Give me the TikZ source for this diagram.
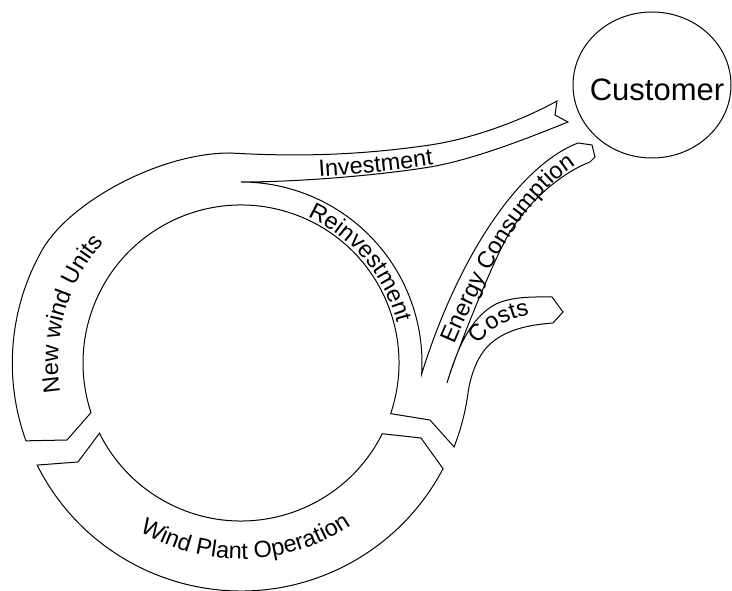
\documentclass[tikz,border=0pt]{standalone}
\usepackage{fontspec}
\setmainfont{Liberation Sans}
\usetikzlibrary{decorations.text}
\newcommand{\flowfont}{\fontsize{23.5}{28}\selectfont}
\newcommand{\customerfont}{\fontsize{31}{36}\selectfont}
\newcommand{\radin}{158}
\newcommand{\radout}{228}
\tikzset{
    band/.style={draw, line width=1pt, line join=miter},
    flowtext/.style={decorate, decoration={text along path, text align=center, text={|\flowfont|#1}}},
    partylabel/.style={inner sep=0pt, font=\customerfont}
}
\begin{document}
\begin{tikzpicture}[x=1pt, y=1pt]
    \useasboundingbox (-241,-228) rectangle (491,363);

    % upper loop with its branches
    \draw[band]
        (198.3:\radin) -- (-174,-77) -- (199.9:228.7)
        arc[start angle=199.9, end angle=150, radius=228.7]
        .. controls (-170,161.6) and (-81,210) .. (-11,210)
        .. controls (60,206) and (120,208) .. (189,218)
        .. controls (230,224) and (280,242) .. (316,262)
        -- (314,248) -- (327,241)
        .. controls (280,222) and (230,203) .. (189,196)
        .. controls (140,188) and (60,181) .. (0,181)
        arc[start angle=90, end angle=-3.5, radius=181]
        .. controls (215,100) and (275,196) .. (337,220)
        -- (351,218) -- (354,206) -- (349,201)
        .. controls (320,190) and (285,160) .. (266,126)
        .. controls (250,97) and (215,10) .. (206,-20)
        .. controls (215,10) and (228,45) .. (255,59)
        .. controls (272,67) and (295,66) .. (311,66)
        -- (322,51) -- (312,40)
        .. controls (285,38) and (255,32) .. (240,8)
        .. controls (233,-3) and (228.6,-18) .. (-7.5:229)
        arc[start angle=-7.5, end angle=-21.5, radius=229]
        -- (189,-57) -- (-18.7:\radin)
        arc[start angle=-18.7, end angle=198.3, radius=\radin]
        -- cycle;

    % bottom band
    \draw[band]
        (206.4:\radin) -- (-163,-99) -- (206.6:\radout)
        arc[start angle=206.6, end angle=332.4, radius=\radout]
        -- (180,-75) -- (333.4:\radin)
        arc[start angle=333.4, end angle=206.4, radius=\radin]
        -- cycle;

    \node[partylabel] (customer) at (416,273) {Customer};
    \draw[band] (411,278) ellipse[x radius=79, y radius=73];

    \path[flowtext={New wind Units}] (200:183) arc[start angle=200, end angle=128, radius=183];
    \path[flowtext={Reinvestment}] (75:161) arc[start angle=75, end angle=5, radius=161];
    \path[flowtext={Wind Plant Operation}] (225:196) arc[start angle=225, end angle=318, radius=196];
    \path[flowtext={Investment}] (30,184) .. controls (100,186) and (170,193) .. (240,206);
    \path[flowtext={Energy Consumption}] (208,5) .. controls (235,68) and (278,169) .. (347,205);
    \path[flowtext={Costs}] (233,8) .. controls (245,35) and (265,45) .. (300,50);
\end{tikzpicture}
\end{document}
